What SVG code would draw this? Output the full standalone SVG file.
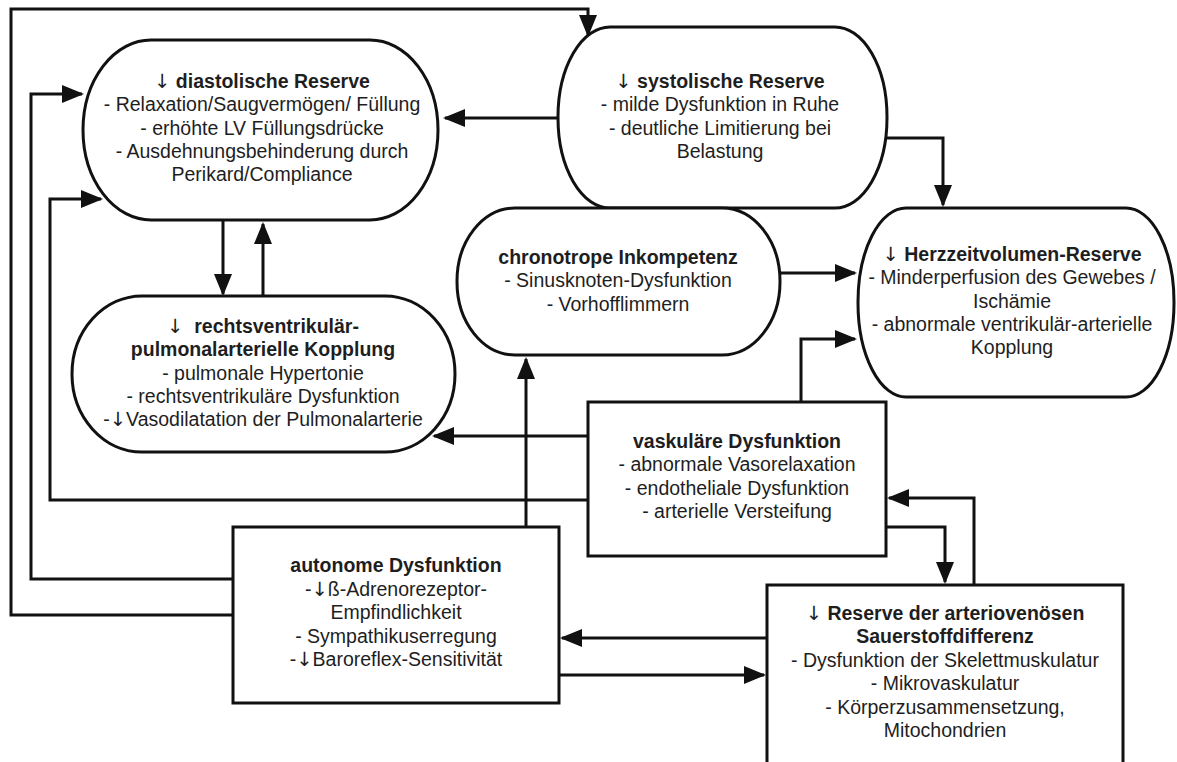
<svg xmlns="http://www.w3.org/2000/svg" width="1177" height="762" viewBox="0 0 1177 762">
<style>
.node{fill:#fff;stroke:#111;stroke-width:3}
.con{fill:none;stroke:#111;stroke-width:3}
text{font-family:"Liberation Sans",Arial,sans-serif;font-size:19.5px;fill:#1e1e1e;text-anchor:middle}
.b{font-weight:bold}
.ar{font-family:"DejaVu Sans",sans-serif;font-weight:normal}
</style>
<defs>
<marker id="ah" markerUnits="userSpaceOnUse" markerWidth="24" markerHeight="18" refX="20" refY="9" orient="auto">
<path d="M0,0 L22,9 L0,18 z" fill="#111"/>
</marker>
</defs>
<rect width="1177" height="762" fill="#fff"/>
<g id="connectors">
<polyline class="con" points="233,615 11,615 11,9 588,9 588,35" marker-end="url(#ah)"/>
<polyline class="con" points="233,579 31,579 31,94 82,94" marker-end="url(#ah)"/>
<polyline class="con" points="588,500 50,500 50,199 101,199" marker-end="url(#ah)"/>
<polyline class="con" points="558,118 445,118" marker-end="url(#ah)"/>
<polyline class="con" points="223,220 223,294" marker-end="url(#ah)"/>
<polyline class="con" points="263,296 263,224" marker-end="url(#ah)"/>
<polyline class="con" points="884,138 943,138 943,205" marker-end="url(#ah)"/>
<polyline class="con" points="780,273 855,273" marker-end="url(#ah)"/>
<polyline class="con" points="801,402 801,339 855,339" marker-end="url(#ah)"/>
<polyline class="con" points="588,436 434,436" marker-end="url(#ah)"/>
<polyline class="con" points="526,527 526,359" marker-end="url(#ah)"/>
<polyline class="con" points="974,585 974,498 889,498" marker-end="url(#ah)"/>
<polyline class="con" points="886,527 945,527 945,582" marker-end="url(#ah)"/>
<polyline class="con" points="767,638 562,638" marker-end="url(#ah)"/>
<polyline class="con" points="559,675 764,675" marker-end="url(#ah)"/>
</g>
<g id="diastolisch">
<rect class="node" x="83" y="40" width="355" height="180" rx="68" ry="90"/>
<text x="262" y="88"><tspan class="b"><tspan class="ar">↓</tspan> diastolische Reserve</tspan><tspan x="262" dy="23.3">- Relaxation/Saugvermögen/ Füllung</tspan><tspan x="262" dy="23.3">- erhöhte LV Füllungsdrücke</tspan><tspan x="262" dy="23.3">- Ausdehnungsbehinderung durch</tspan><tspan x="262" dy="23.3">Perikard/Compliance</tspan></text>
</g>
<g id="systolisch">
<rect class="node" x="558" y="27" width="329" height="181" rx="52" ry="90"/>
<text x="720" y="88"><tspan class="b"><tspan class="ar">↓</tspan> systolische Reserve</tspan><tspan x="720" dy="23.3">- milde Dysfunktion in Ruhe</tspan><tspan x="720" dy="23.3">- deutliche Limitierung bei</tspan><tspan x="720" dy="23.3">Belastung</tspan></text>
</g>
<g id="chronotrop">
<rect class="node" x="457" y="208" width="323" height="147" rx="58" ry="73"/>
<text x="618" y="264"><tspan class="b">chronotrope Inkompetenz</tspan><tspan x="618" dy="23.3">- Sinusknoten-Dysfunktion</tspan><tspan x="618" dy="23.3">- Vorhofflimmern</tspan></text>
</g>
<g id="hzv">
<rect class="node" x="858" y="208" width="316" height="189" rx="48" ry="94"/>
<text x="1012" y="261"><tspan class="b"><tspan class="ar">↓</tspan> Herzzeitvolumen-Reserve</tspan><tspan x="1012" dy="23.3">- Minderperfusion des Gewebes /</tspan><tspan x="1012" dy="23.3">Ischämie</tspan><tspan x="1012" dy="23.3">- abnormale ventrikulär-arterielle</tspan><tspan x="1012" dy="23.3">Kopplung</tspan></text>
</g>
<g id="rv">
<rect class="node" x="72" y="296" width="383" height="156" rx="70" ry="78"/>
<text x="263" y="333"><tspan class="b"><tspan class="ar">↓</tspan>&#160; rechtsventrikulär-</tspan><tspan class="b" x="263" dy="23.3">pulmonalarterielle Kopplung</tspan><tspan x="263" dy="23.3">- pulmonale Hypertonie</tspan><tspan x="263" dy="23.3">- rechtsventrikuläre Dysfunktion</tspan><tspan x="263" dy="23.3">-<tspan class="ar">↓</tspan>Vasodilatation der Pulmonalarterie</tspan></text>
</g>
<g id="vaskulaer">
<rect class="node" x="588" y="402" width="298" height="154"/>
<text x="737" y="448"><tspan class="b">vaskuläre Dysfunktion</tspan><tspan x="737" dy="23.3">- abnormale Vasorelaxation</tspan><tspan x="737" dy="23.3">- endotheliale Dysfunktion</tspan><tspan x="737" dy="23.3">- arterielle Versteifung</tspan></text>
</g>
<g id="autonom">
<rect class="node" x="233" y="527" width="326" height="176"/>
<text x="396" y="572"><tspan class="b">autonome Dysfunktion</tspan><tspan x="396" dy="23.6">-<tspan class="ar">↓</tspan>ß-Adrenorezeptor-</tspan><tspan x="396" dy="23.6">Empfindlichkeit</tspan><tspan x="396" dy="23.6">- Sympathikuserregung</tspan><tspan x="396" dy="23.6">-<tspan class="ar">↓</tspan>Baroreflex-Sensitivität</tspan></text>
</g>
<g id="avdo2">
<rect class="node" x="767" y="585" width="356" height="195"/>
<text x="945" y="620"><tspan class="b"><tspan class="ar">↓</tspan> Reserve der arteriovenösen</tspan><tspan class="b" x="945" dy="23.3">Sauerstoffdifferenz</tspan><tspan x="945" dy="23.3">- Dysfunktion der Skelettmuskulatur</tspan><tspan x="945" dy="23.3">- Mikrovaskulatur</tspan><tspan x="945" dy="23.8">- Körperzusammensetzung,</tspan><tspan x="945" dy="23.3">Mitochondrien</tspan></text>
</g>
</svg>
